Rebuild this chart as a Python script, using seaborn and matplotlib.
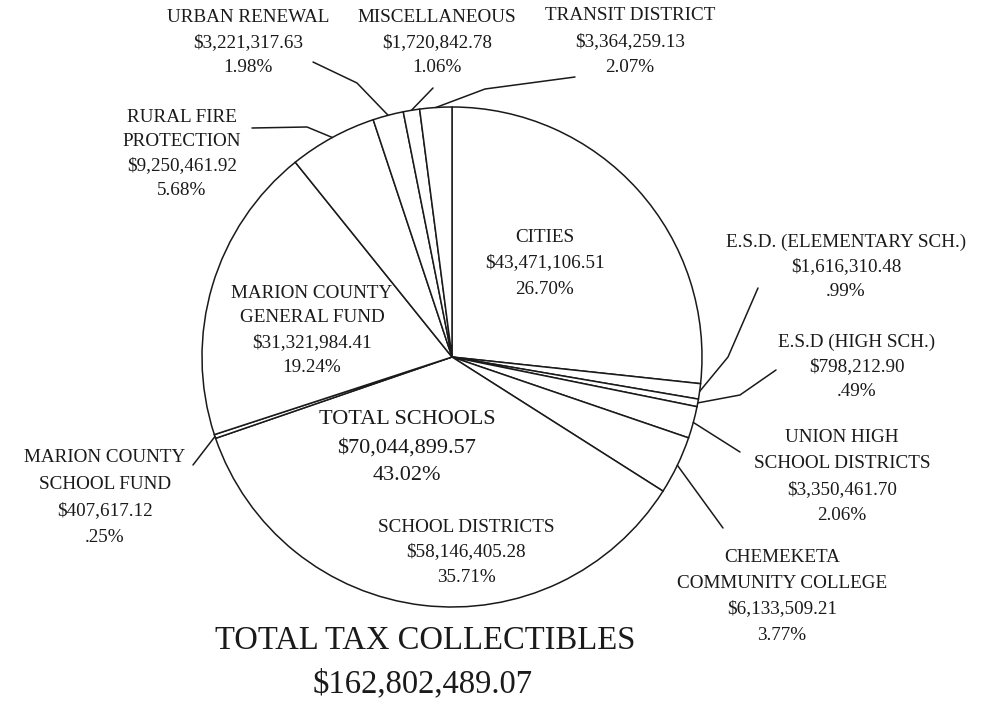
import numpy as np
import matplotlib
matplotlib.use("Agg")
import matplotlib.pyplot as plt
import seaborn as sns

sns.set_theme(style="white")
plt.rcParams["font.family"] = ["Liberation Serif", "DejaVu Serif"]

# slices, clockwise from 12 o'clock
categories = [
    "CITIES",
    "E.S.D. (ELEMENTARY SCH.)",
    "E.S.D (HIGH SCH.)",
    "UNION HIGH\nSCHOOL DISTRICTS",
    "CHEMEKETA\nCOMMUNITY COLLEGE",
    "SCHOOL DISTRICTS",
    "MARION COUNTY\nSCHOOL FUND",
    "MARION COUNTY\nGENERAL FUND",
    "RURAL FIRE\nPROTECTION",
    "URBAN RENEWAL",
    "MISCELLANEOUS",
    "TRANSIT DISTRICT",
]
amounts = [43471106.51, 1616310.48, 798212.90, 3350461.70, 6133509.21,
           58146405.28, 407617.12, 31321984.41, 9250461.92, 3221317.63,
           1720842.78, 3364259.13]
# percentages as printed on the chart (they are adjusted to add up to 100)
percents = [26.70, 0.99, 0.49, 2.06, 3.77, 35.71, 0.25, 19.24, 5.68, 1.98,
            1.06, 2.07]
school_groups = ["E.S.D. (ELEMENTARY SCH.)", "E.S.D (HIGH SCH.)",
                 "UNION HIGH\nSCHOOL DISTRICTS", "CHEMEKETA\nCOMMUNITY COLLEGE",
                 "SCHOOL DISTRICTS"]
schools_percent = 43.02

W, H = 994, 705
total = sum(amounts)
schools_total = sum(a for c, a in zip(categories, amounts) if c in school_groups)


def money(v):
    return "${:,.2f}".format(v)


def pct(p):
    s = "{:.2f}%".format(p)
    return s[1:] if s.startswith("0") else s


# label layout in pixel coords: (x centre, y of first line, line step)
label_pos = {
    "CITIES": (545, 237, 26),
    "E.S.D. (ELEMENTARY SCH.)": (846, 242, 25),
    "E.S.D (HIGH SCH.)": (857, 342, 25),
    "UNION HIGH\nSCHOOL DISTRICTS": (842, 438, 26),
    "CHEMEKETA\nCOMMUNITY COLLEGE": (782, 557, 26),
    "SCHOOL DISTRICTS": (466, 527, 25),
    "MARION COUNTY\nSCHOOL FUND": (105, 458, 26.5),
    "MARION COUNTY\nGENERAL FUND": (312, 293, 25),
    "RURAL FIRE\nPROTECTION": (182, 117, 24.5),
    "URBAN RENEWAL": (248, 18, 25),
    "MISCELLANEOUS": (437, 18, 25),
    "TRANSIT DISTRICT": (630, 16, 26),
}
# leader lines: far end first, then elbows; the last point joins the arc
leaders = {
    "E.S.D. (ELEMENTARY SCH.)": [(758, 288), (728, 357)],
    "E.S.D (HIGH SCH.)": [(776, 370), (740, 395)],
    "UNION HIGH\nSCHOOL DISTRICTS": [(740, 452)],
    "CHEMEKETA\nCOMMUNITY COLLEGE": [(723, 528)],
    "MARION COUNTY\nSCHOOL FUND": [(193, 465)],
    "RURAL FIRE\nPROTECTION": [(252, 128), (307, 127)],
    "URBAN RENEWAL": [(313, 62), (357, 83)],
    "MISCELLANEOUS": [(433, 88)],
    "TRANSIT DISTRICT": [(575, 77), (485, 89)],
}

cx, cy, r = 452, H - 357, 250
ink = "#1a1a1a"

fig = plt.figure(figsize=(W / 100, H / 100), dpi=100)
ax = fig.add_axes([0, 0, 1, 1])
wedges, _ = ax.pie(amounts, startangle=90, counterclock=False,
                   center=(cx, cy), radius=r,
                   wedgeprops=dict(facecolor="white", edgecolor=ink, linewidth=1.1))
ax.set_xlim(0, W)
ax.set_ylim(0, H)
ax.set_aspect("equal")
ax.axis("off")

for name, amt, p in zip(categories, amounts, percents):
    x, y0, step = label_pos[name]
    lines = name.split("\n") + [money(amt), pct(p)]
    for i, line in enumerate(lines):
        ax.text(x, H - (y0 + i * step), line, ha="center", va="center",
                fontsize=13.8, color=ink)

for w, name in zip(wedges, categories):
    if name not in leaders:
        continue
    mid = np.deg2rad((w.theta1 + w.theta2) / 2)
    pts = [(px, H - py) for px, py in leaders[name]]
    pts.append((cx + r * np.cos(mid), cy + r * np.sin(mid)))
    xs, ys = zip(*pts)
    ax.plot(xs, ys, color=ink, lw=1.1)

# schools subtotal inside the pie
for i, line in enumerate(["TOTAL SCHOOLS", money(schools_total), pct(schools_percent)]):
    ax.text(407, H - (420 + i * 28), line, ha="center", va="center",
            fontsize=16, color=ink)

ax.text(425, H - 641, "TOTAL TAX COLLECTIBLES", ha="center", va="center",
        fontsize=23.5, color=ink)
ax.text(423, H - 684, money(total), ha="center", va="center",
        fontsize=23.5, color=ink)

fig.savefig("out.png", dpi=100, facecolor="white")
